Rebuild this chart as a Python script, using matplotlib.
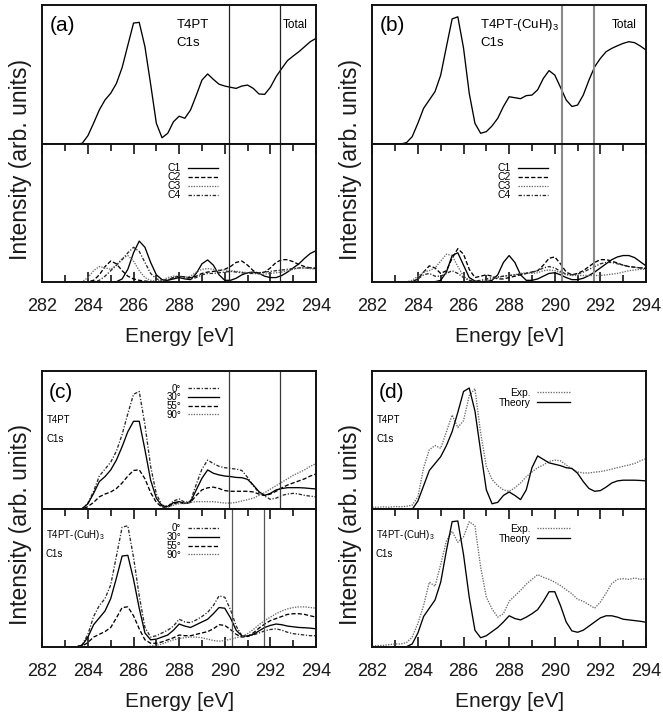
import matplotlib
matplotlib.use("Agg")
import matplotlib.pyplot as plt
from matplotlib.ticker import MultipleLocator

plt.rcParams["font.family"] = ["Liberation Sans", "DejaVu Sans"]
plt.rcParams["mathtext.fontset"] = "custom"
plt.rcParams["mathtext.rm"] = "Liberation Sans"
plt.rcParams["mathtext.default"] = "regular"

W, H = 663, 713

# photon energy grid (eV) used by the calculated spectra
ENERGY = [
    283.0, 283.25, 283.5, 283.75, 284.0, 284.25, 284.5, 284.75,
    285.0, 285.25, 285.5, 285.75, 286.0, 286.25, 286.5, 286.75,
    287.0, 287.25, 287.5, 287.75, 288.0, 288.25, 288.5, 288.75,
    289.0, 289.25, 289.5, 289.75, 290.0, 290.25, 290.5, 290.75,
    291.0, 291.25, 291.5, 291.75, 292.0, 292.25, 292.5, 292.75,
    293.0, 293.25, 293.5, 293.75, 294.0,
]
# grid of the measured spectra
ENERGY_EXP = [
    282.0, 282.25, 282.5, 282.75,
    283.0, 283.25, 283.5, 283.75, 284.0, 284.25, 284.5, 284.75,
    285.0, 285.25, 285.5, 285.75, 286.0, 286.25, 286.5, 286.75,
    287.0, 287.25, 287.5, 287.75, 288.0, 288.25, 288.5, 288.75,
    289.0, 289.25, 289.5, 289.75, 290.0, 290.25, 290.5, 290.75,
    291.0, 291.25, 291.5, 291.75, 292.0, 292.25, 292.5, 292.75,
    293.0, 293.25, 293.5, 293.75, 294.0,
]

# (a) T4PT, total and per-carbon components
A_TOTAL = [0, 0, 0, 0.005, 0.06, 0.15, 0.245, 0.317, 0.365, 0.436, 0.55, 0.71,
           0.87, 0.875, 0.70, 0.43, 0.149, 0.045, 0.077, 0.16, 0.20, 0.185, 0.245, 0.35,
           0.46, 0.504, 0.465, 0.43, 0.417, 0.408, 0.40, 0.417, 0.424, 0.40, 0.36, 0.357,
           0.408, 0.484, 0.544, 0.60, 0.633, 0.664, 0.70, 0.736, 0.76]
A_C1 = [0, 0, 0, 0, 0, 0, 0, 0, 0, 0, 0.02, 0.09,
        0.21, 0.295, 0.25, 0.14, 0.05, 0.015, 0.01, 0.02, 0.03, 0.02, 0.015, 0.06,
        0.13, 0.158, 0.12, 0.05, 0.01, 0.01, 0.025, 0.05, 0.065, 0.07, 0.06, 0.04,
        0.03, 0.03, 0.045, 0.07, 0.10, 0.13, 0.17, 0.205, 0.225]
A_C2 = [0, 0, 0, 0, 0, 0.01, 0.05, 0.11, 0.15, 0.13, 0.08, 0.04,
        0.02, 0.01, 0.005, 0, 0, 0, 0.01, 0.03, 0.04, 0.035, 0.03, 0.04,
        0.06, 0.07, 0.075, 0.08, 0.09, 0.11, 0.14, 0.15, 0.12, 0.08, 0.06, 0.07,
        0.10, 0.14, 0.16, 0.16, 0.145, 0.125, 0.11, 0.10, 0.095]
A_C3 = [0, 0, 0, 0, 0.03, 0.08, 0.11, 0.10, 0.09, 0.12, 0.17, 0.19,
        0.15, 0.08, 0.03, 0.01, 0.005, 0.01, 0.03, 0.04, 0.04, 0.03, 0.04, 0.07,
        0.09, 0.095, 0.09, 0.085, 0.085, 0.08, 0.075, 0.07, 0.065, 0.06, 0.055, 0.055,
        0.06, 0.065, 0.07, 0.08, 0.09, 0.10, 0.10, 0.095, 0.09]
A_C4 = [0, 0, 0, 0, 0, 0, 0.01, 0.04, 0.08, 0.12, 0.16, 0.21,
        0.25, 0.22, 0.14, 0.06, 0.02, 0.01, 0.015, 0.03, 0.04, 0.03, 0.02, 0.03,
        0.05, 0.06, 0.06, 0.065, 0.07, 0.075, 0.07, 0.065, 0.06, 0.06, 0.065, 0.07,
        0.075, 0.08, 0.085, 0.09, 0.095, 0.10, 0.10, 0.10, 0.10]

# (b) T4PT-(CuH)3
B_TOTAL = [0, 0, 0.01, 0.053, 0.15, 0.257, 0.317, 0.377, 0.496, 0.70, 0.90, 0.915,
           0.69, 0.365, 0.149, 0.077, 0.089, 0.13, 0.185, 0.27, 0.34, 0.333, 0.326, 0.348,
           0.352, 0.39, 0.472, 0.528, 0.496, 0.408, 0.317, 0.27, 0.28, 0.352, 0.46, 0.556,
           0.616, 0.664, 0.688, 0.707, 0.724, 0.736, 0.729, 0.705, 0.676]
B_C1 = [0, 0, 0, 0, 0, 0, 0, 0, 0.01, 0.07, 0.19, 0.21,
        0.12, 0.03, 0.005, 0, 0, 0.01, 0.05, 0.14, 0.19, 0.14, 0.05, 0.01,
        0.01, 0.02, 0.04, 0.06, 0.065, 0.05, 0.03, 0.015, 0.015, 0.025, 0.045, 0.07,
        0.10, 0.13, 0.16, 0.18, 0.19, 0.19, 0.175, 0.145, 0.115]
B_C2 = [0, 0, 0, 0, 0.02, 0.07, 0.115, 0.10, 0.06, 0.08, 0.17, 0.24,
        0.20, 0.09, 0.03, 0.04, 0.05, 0.04, 0.02, 0.02, 0.03, 0.04, 0.05, 0.06,
        0.07, 0.08, 0.12, 0.17, 0.18, 0.13, 0.07, 0.05, 0.06, 0.08, 0.11, 0.14,
        0.16, 0.16, 0.15, 0.135, 0.12, 0.11, 0.105, 0.10, 0.095]
B_C3 = [0, 0, 0, 0.01, 0.04, 0.07, 0.08, 0.10, 0.15, 0.20, 0.19, 0.11,
        0.04, 0.01, 0, 0.005, 0.01, 0.02, 0.03, 0.04, 0.045, 0.05, 0.06, 0.065,
        0.06, 0.065, 0.08, 0.085, 0.08, 0.065, 0.05, 0.045, 0.045, 0.045, 0.045, 0.045,
        0.045, 0.05, 0.055, 0.06, 0.07, 0.08, 0.085, 0.09, 0.09]
B_C4 = [0, 0, 0, 0, 0.02, 0.05, 0.06, 0.04, 0.04, 0.06, 0.08, 0.06,
        0.03, 0.01, 0.005, 0.01, 0.02, 0.03, 0.035, 0.04, 0.045, 0.05, 0.055, 0.06,
        0.07, 0.08, 0.10, 0.11, 0.10, 0.075, 0.055, 0.05, 0.055, 0.07, 0.09, 0.11,
        0.13, 0.14, 0.14, 0.13, 0.12, 0.11, 0.105, 0.10, 0.10]

# (c) angular dependence, T4PT (top) and T4PT-(CuH)3 (bottom)
ANGLES = ["0°", "30°", "55°", "90°"]
C_TOP = [
    [0, 0, 0, 0.005, 0.045, 0.13, 0.24, 0.29, 0.34, 0.42, 0.54, 0.69,
     0.83, 0.85, 0.61, 0.31, 0.11, 0.03, 0.02, 0.06, 0.075, 0.05, 0.06, 0.18,
     0.29, 0.355, 0.33, 0.31, 0.30, 0.295, 0.29, 0.28, 0.23, 0.17, 0.12, 0.095,
     0.072, 0.08, 0.10, 0.11, 0.115, 0.11, 0.10, 0.095, 0.09],
    [0, 0, 0, 0.005, 0.04, 0.115, 0.20, 0.236, 0.284, 0.356, 0.452, 0.56,
     0.635, 0.635, 0.43, 0.21, 0.08, 0.024, 0.02, 0.048, 0.055, 0.043, 0.055, 0.14,
     0.224, 0.284, 0.26, 0.248, 0.24, 0.236, 0.23, 0.228, 0.216, 0.175, 0.127, 0.10,
     0.115, 0.14, 0.15, 0.156, 0.156, 0.156, 0.154, 0.15, 0.147],
    [0, 0, 0, 0, 0.02, 0.05, 0.09, 0.11, 0.125, 0.15, 0.19, 0.24,
     0.28, 0.285, 0.22, 0.12, 0.05, 0.015, 0.015, 0.04, 0.05, 0.04, 0.05, 0.10,
     0.14, 0.155, 0.16, 0.15, 0.135, 0.13, 0.13, 0.13, 0.13, 0.125, 0.11, 0.10,
     0.11, 0.13, 0.155, 0.175, 0.19, 0.205, 0.22, 0.24, 0.255],
    [0, 0, 0, 0, 0, 0, 0, 0, 0, 0, 0, 0,
     0, 0, 0, 0, 0, 0.005, 0.015, 0.03, 0.04, 0.045, 0.05, 0.055,
     0.055, 0.055, 0.055, 0.05, 0.045, 0.045, 0.05, 0.06, 0.07, 0.08, 0.10, 0.12,
     0.145, 0.17, 0.195, 0.22, 0.245, 0.265, 0.285, 0.31, 0.33],
]
C_BOT = [
    [0, 0, 0, 0.015, 0.09, 0.22, 0.30, 0.35, 0.45, 0.66, 0.87, 0.88,
     0.65, 0.37, 0.14, 0.07, 0.08, 0.10, 0.12, 0.15, 0.20, 0.18, 0.175, 0.195,
     0.22, 0.25, 0.30, 0.37, 0.36, 0.27, 0.15, 0.08, 0.075, 0.085, 0.10, 0.115,
     0.125, 0.13, 0.12, 0.105, 0.095, 0.09, 0.085, 0.08, 0.08],
    [0, 0, 0, 0.01, 0.07, 0.16, 0.21, 0.26, 0.35, 0.50, 0.66, 0.665,
     0.49, 0.28, 0.10, 0.05, 0.055, 0.07, 0.085, 0.12, 0.165, 0.15, 0.14, 0.16,
     0.18, 0.20, 0.24, 0.285, 0.28, 0.21, 0.12, 0.078, 0.078, 0.09, 0.115, 0.14,
     0.155, 0.165, 0.16, 0.15, 0.145, 0.14, 0.138, 0.135, 0.13],
    [0, 0, 0, 0.005, 0.03, 0.07, 0.09, 0.11, 0.14, 0.21, 0.285, 0.29,
     0.225, 0.13, 0.05, 0.025, 0.025, 0.035, 0.05, 0.065, 0.085, 0.08, 0.08, 0.09,
     0.10, 0.11, 0.13, 0.16, 0.155, 0.125, 0.09, 0.07, 0.075, 0.10, 0.135, 0.165,
     0.19, 0.205, 0.22, 0.235, 0.24, 0.24, 0.235, 0.225, 0.215],
    [0, 0, 0, 0, 0, 0, 0, 0, 0, 0, 0, 0,
     0, 0, 0, 0.005, 0.01, 0.02, 0.035, 0.05, 0.06, 0.065, 0.07, 0.07,
     0.065, 0.055, 0.045, 0.04, 0.045, 0.055, 0.065, 0.075, 0.095, 0.125, 0.16, 0.19,
     0.215, 0.24, 0.26, 0.275, 0.285, 0.29, 0.29, 0.285, 0.28],
]

# (d) experiment vs theory
D_TOP_THEORY = [0, 0, 0, 0, 0.06, 0.17, 0.28, 0.33, 0.38, 0.46, 0.56, 0.70,
                0.85, 0.875, 0.71, 0.42, 0.14, 0.04, 0.05, 0.10, 0.125, 0.10, 0.07, 0.14,
                0.30, 0.385, 0.36, 0.335, 0.325, 0.315, 0.30, 0.295, 0.26, 0.20, 0.15, 0.13,
                0.135, 0.16, 0.19, 0.205, 0.21, 0.21, 0.21, 0.208, 0.205]
D_TOP_EXP = [0.015, 0.015, 0.018, 0.015, 0.02, 0.018, 0.022, 0.03, 0.09, 0.30, 0.43, 0.46,
             0.44, 0.56, 0.68, 0.59, 0.64, 0.82, 0.87, 0.55, 0.31, 0.215, 0.17, 0.14,
             0.13, 0.155, 0.19, 0.235, 0.27, 0.30, 0.32, 0.345, 0.355, 0.35, 0.32, 0.29,
             0.27, 0.262, 0.262, 0.268, 0.272, 0.28, 0.29, 0.30, 0.31, 0.32, 0.33, 0.35, 0.365]
D_BOT_THEORY = [0, 0, 0, 0.02, 0.10, 0.22, 0.28, 0.34, 0.47, 0.70, 0.91, 0.915,
                0.67, 0.36, 0.12, 0.065, 0.08, 0.11, 0.14, 0.18, 0.225, 0.205, 0.195, 0.215,
                0.24, 0.27, 0.33, 0.40, 0.40, 0.30, 0.18, 0.115, 0.105, 0.12, 0.15, 0.18,
                0.21, 0.225, 0.225, 0.215, 0.20, 0.195, 0.19, 0.185, 0.178]
D_BOT_EXP = [0.005, 0.008, 0.01, 0.015, 0.02, 0.02, 0.03, 0.07, 0.17, 0.30, 0.47, 0.44,
             0.60, 0.77, 0.84, 0.76, 0.80, 0.91, 0.88, 0.58, 0.36, 0.275, 0.215, 0.24,
             0.33, 0.37, 0.41, 0.455, 0.49, 0.525, 0.505, 0.49, 0.47, 0.445, 0.415, 0.385,
             0.345, 0.33, 0.305, 0.28, 0.325, 0.39, 0.46, 0.49, 0.495, 0.49, 0.50, 0.49, 0.495]

EDGES_T4PT = [290.2, 292.4]
EDGES_CUH = [290.3, 291.7]

SOLID = dict(color="black", lw=0.95, ls="-")
DASHED = dict(color="black", lw=0.95, ls=(0, (3.2, 1.6)))
DOTTED = dict(color="#6a6a6a", lw=0.95, ls=(0, (1.0, 1.0)))
DASHDOT = dict(color="#2a2a2a", lw=0.95, ls=(0, (2.6, 1.3, 0.9, 1.3)))
STYLES = [DASHDOT, SOLID, DASHED, DOTTED]   # 0, 30, 55, 90 deg
COMP_STYLES = [SOLID, DASHED, DOTTED, DASHDOT]  # C1..C4


def add_px_axes(fig, left, top, right, bottom):
    return fig.add_axes([left / W, 1 - bottom / H, (right - left) / W, (bottom - top) / H])


def style_pair(ax_top, ax_bot):
    for ax in (ax_top, ax_bot):
        ax.set_xlim(282, 294)
        ax.set_ylim(0, 1)
        ax.set_yticks([])
        for s in ax.spines.values():
            s.set_linewidth(1.4)
            s.set_color("#111111")
    ax_top.set_xticks([])
    ax_bot.xaxis.set_major_locator(MultipleLocator(2))
    ax_bot.xaxis.set_minor_locator(MultipleLocator(1))
    ax_bot.tick_params(axis="x", which="both", direction="in", top=True, bottom=True,
                       width=1.1, labelsize=13, pad=12, labelcolor="#1a1a1a")
    ax_bot.tick_params(axis="x", which="major", length=7)
    ax_bot.tick_params(axis="x", which="minor", length=5)


def small_legend(ax, x, y, fontsize, handlelength, spacing):
    ax.legend(loc="upper right", bbox_to_anchor=(x, y), frameon=False, markerfirst=False,
              fontsize=fontsize, handlelength=handlelength, handletextpad=0.65,
              labelspacing=spacing, borderpad=0, borderaxespad=0)


fig = plt.figure(figsize=(W / 100, H / 100), dpi=100)
fig.patch.set_facecolor("white")

COLS = [(42.3, 316.0), (372.3, 646.0)]
ROWS = [(5.0, 144.0, 281.7), (370.7, 509.3, 646.7)]

axes = {}
for r, (top, mid, bot) in enumerate(ROWS):
    for c, (left, right) in enumerate(COLS):
        a_top = add_px_axes(fig, left, top, right, mid)
        a_bot = add_px_axes(fig, left, mid, right, bot)
        style_pair(a_top, a_bot)
        axes[(r, c)] = (a_top, a_bot)
        xc = (left + right) / 2 / W
        fig.text(xc, 1 - (bot + 55) / H, "Energy [eV]", ha="center", va="center",
                 fontsize=15, color="#1a1a1a")
        fig.text((left - 22) / W, 1 - (mid + 15) / H, "Intensity (arb. units)", rotation=90,
                 ha="center", va="center", fontsize=16.5, color="#1a1a1a")

# ---- (a)
at, ab = axes[(0, 0)]
at.plot(ENERGY, A_TOTAL, **SOLID)
for name, vals, st in zip(["C1", "C2", "C3", "C4"], [A_C1, A_C2, A_C3, A_C4], COMP_STYLES):
    ab.plot(ENERGY, vals, label=name, **st)
for ax in (at, ab):
    for e in EDGES_T4PT:
        ax.axvline(e, color="#222222", lw=0.9)
at.text(0.028, 0.85, "(a)", transform=at.transAxes, fontsize=15, va="center")
at.text(287.9, 0.856, "T4PT", fontsize=9.5, va="center")
at.text(287.9, 0.727, "C1s", fontsize=9.5, va="center")
at.text(292.55, 0.856, "Total", fontsize=8.5, va="center")
small_legend(ab, 0.642, 0.86, 7.5, 2.9, -0.1)

# ---- (b)
bt, bb = axes[(0, 1)]
bt.plot(ENERGY, B_TOTAL, **SOLID)
for name, vals, st in zip(["C1", "C2", "C3", "C4"], [B_C1, B_C2, B_C3, B_C4], COMP_STYLES):
    bb.plot(ENERGY, vals, label=name, **st)
for ax in (bt, bb):
    for e in EDGES_CUH:
        ax.axvline(e, color="#8a8a8a", lw=1.5)
bt.text(0.028, 0.85, "(b)", transform=bt.transAxes, fontsize=15, va="center")
bt.text(286.72, 0.856, "T4PT-(CuH)$_3$", fontsize=9.5, va="center")
bt.text(286.72, 0.727, "C1s", fontsize=9.5, va="center")
bt.text(292.5, 0.856, "Total", fontsize=8.5, va="center")
small_legend(bb, 0.642, 0.86, 7.5, 2.9, -0.1)

# ---- (c)
ct, cb = axes[(1, 0)]
for lab, vals, st in zip(ANGLES, C_TOP, STYLES):
    ct.plot(ENERGY, vals, label=lab, **st)
for lab, vals, st in zip(ANGLES, C_BOT, STYLES):
    cb.plot(ENERGY, vals, label=lab, **st)
for e in EDGES_T4PT:
    ct.axvline(e, color="#3a3a3a", lw=0.9)
for e in EDGES_CUH:
    cb.axvline(e, color="#555555", lw=0.9)
ct.text(0.025, 0.846, "(c)", transform=ct.transAxes, fontsize=15, va="center")
ct.text(282.19, 0.644, "T4PT", fontsize=7, va="center")
ct.text(282.19, 0.505, "C1s", fontsize=7, va="center")
cb.text(282.16, 0.813, "T4PT-(CuH)$_3$", fontsize=7, va="center")
cb.text(282.16, 0.675, "C1s", fontsize=7, va="center")
small_legend(ct, 0.645, 0.907, 7, 3.2, -0.13)
small_legend(cb, 0.645, 0.897, 7, 3.2, -0.13)

# ---- (d)
dt, db = axes[(1, 1)]
dt.plot(ENERGY_EXP, D_TOP_EXP, label="Exp.", **DOTTED)
dt.plot(ENERGY, D_TOP_THEORY, label="Theory", **SOLID)
db.plot(ENERGY_EXP, D_BOT_EXP, label="Exp.", **DOTTED)
db.plot(ENERGY, D_BOT_THEORY, label="Theory", **SOLID)
dt.text(0.025, 0.846, "(d)", transform=dt.transAxes, fontsize=15, va="center")
dt.text(282.19, 0.644, "T4PT", fontsize=7, va="center")
dt.text(282.19, 0.505, "C1s", fontsize=7, va="center")
db.text(282.16, 0.813, "T4PT-(CuH)$_3$", fontsize=7, va="center")
db.text(282.16, 0.675, "C1s", fontsize=7, va="center")
small_legend(dt, 0.722, 0.876, 7.4, 3.2, 0.0)
small_legend(db, 0.722, 0.895, 7.4, 3.2, 0.0)

fig.savefig("out.png", dpi=100)
